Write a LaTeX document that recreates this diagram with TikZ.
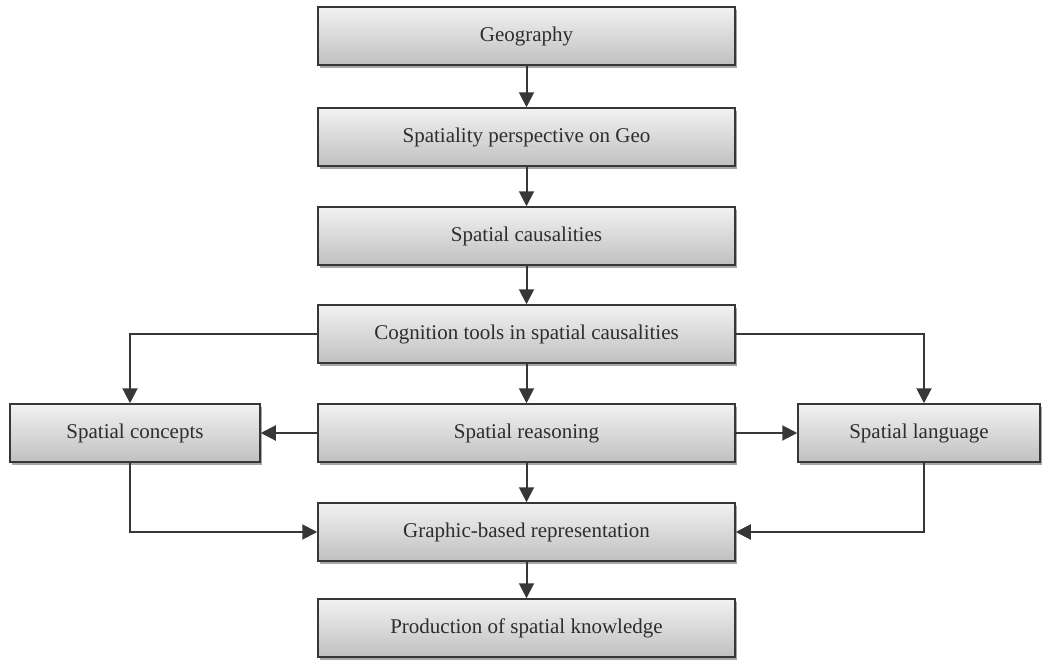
\documentclass[tikz,border=0pt]{standalone}
\usepackage{fontspec}
\setmainfont{Liberation Serif}
\usetikzlibrary{arrows.meta,shadows,positioning}
\definecolor{edge}{RGB}{55,55,55}
\definecolor{ink}{RGB}{45,45,45}
\definecolor{boxtop}{RGB}{242,242,242}
\definecolor{boxbot}{RGB}{192,192,192}
\tikzset{
  box/.style={draw=edge, line width=1.5pt, top color=boxtop, bottom color=boxbot,
    minimum height=58pt, inner sep=0pt, text=ink, font=\fontsize{21}{25}\selectfont,
    drop shadow={shadow xshift=2pt, shadow yshift=-3pt, fill=black, opacity=0.35}},
  wide/.style={box, minimum width=417pt},
  link/.style={draw=edge, line width=2pt, -{Triangle[length=15pt,width=15pt]}}
}
\begin{document}
\begin{tikzpicture}
\useasboundingbox (0pt,0pt) rectangle (1047pt,-661pt);
\node[wide] (geo)  at (526.5pt,-36pt)  {Geography};
\node[wide] (persp) at (526.5pt,-137pt) {Spatiality perspective on Geo};
\node[wide] (caus) at (526.5pt,-236pt) {Spatial causalities};
\node[wide] (cog)  at (526.5pt,-334pt) {Cognition tools in spatial causalities};
\node[wide] (reas) at (526.5pt,-433pt) {Spatial reasoning};
\node[wide] (graph) at (526.5pt,-532pt) {Graphic-based representation};
\node[wide] (prod) at (526.5pt,-628pt) {Production of spatial knowledge};
\node[box, minimum width=250pt] (conc) at (135pt,-433pt) {Spatial concepts};
\node[box, minimum width=242pt] (lang) at (919pt,-433pt) {Spatial language};
\coordinate (cl) at (130pt,-334pt);
\coordinate (cr) at (924pt,-334pt);
\coordinate (bl) at (130pt,-532pt);
\coordinate (br) at (924pt,-532pt);
\draw[link] (geo) -- (persp);
\draw[link] (persp) -- (caus);
\draw[link] (caus) -- (cog);
\draw[link] (cog) -- (reas);
\draw[link] (reas) -- (graph);
\draw[link] (graph) -- (prod);
\draw[link] (cog.west) -- (cl) -- (cl |- conc.north);
\draw[link] (cog.east) -- (cr) -- (cr |- lang.north);
\draw[link] (reas.west) -- (conc.east);
\draw[link] (reas.east) -- (lang.west);
\draw[link] (cl |- conc.south) -- (bl) -- (graph.west);
\draw[link] (cr |- lang.south) -- (br) -- (graph.east);
\end{tikzpicture}
\end{document}
